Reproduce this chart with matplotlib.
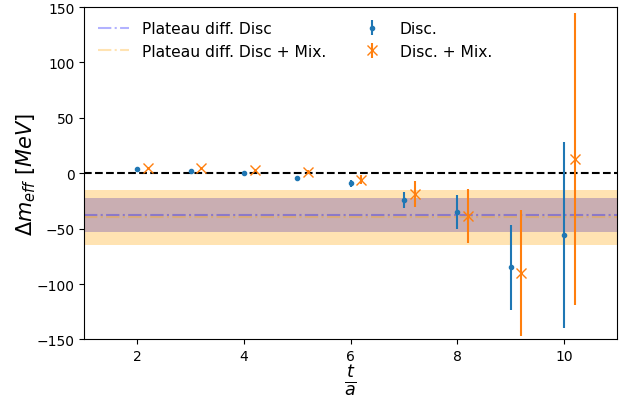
import matplotlib
matplotlib.use('Agg')
import matplotlib.pyplot as plt
import numpy as np

# effective mass differences, Disc. only
t_disc = np.array([2, 3, 4, 5, 6, 7, 8, 9, 10])
dm_disc = np.array([3.6, 2.0, 0.0, -4.0, -9.0, -24.0, -35.0, -85.0, -56.0])
err_disc = np.array([1.0, 1.0, 1.0, 1.5, 3.0, 7.5, 15.5, 38.0, 84.0])

# Disc. + Mix. (shifted by 0.2 in t)
t_mix = t_disc + 0.2
dm_mix = np.array([5.0, 5.0, 3.0, 1.0, -6.0, -18.5, -38.5, -90.0, 13.0])
err_mix = np.array([1.0, 1.0, 1.0, 1.5, 4.0, 11.5, 24.0, 57.0, 132.0])

# plateau fits
plat_disc, plat_disc_err = -37.8, 15.3
plat_mix, plat_mix_err = -39.8, 24.9

fig, ax = plt.subplots(figsize=(6.33, 4.02), dpi=100)

xs = np.array([1, 11])
ax.plot(xs, [plat_disc] * 2, '-.', color='blue', alpha=0.3, label='Plateau diff. Disc')
ax.fill_between(xs, plat_disc - plat_disc_err, plat_disc + plat_disc_err, color='blue', alpha=0.3, lw=0)
ax.plot(xs, [plat_mix] * 2, '-.', color='orange', alpha=0.3, label='Plateau diff. Disc + Mix.')
ax.fill_between(xs, plat_mix - plat_mix_err, plat_mix + plat_mix_err, color='orange', alpha=0.3, lw=0)

ax.axhline(0, color='black', ls='--', lw=1.5)

ax.errorbar(t_disc, dm_disc, yerr=err_disc, fmt='o', ms=3, color='tab:blue', label='Disc.')
ax.errorbar(t_mix, dm_mix, yerr=err_mix, fmt='x', ms=6.5, color='tab:orange', label='Disc. + Mix.')

ax.set_xlim(1, 11)
ax.set_ylim(-150, 150)
ax.set_xlabel(r'$\frac{t}{a}$', fontsize=18, labelpad=0)
ax.set_ylabel(r'$\Delta m_{eff}$ $[MeV]$', fontsize=15, labelpad=-1)
ax.legend(loc='upper left', ncol=2, frameon=False, fontsize=11.2, columnspacing=1.95)

fig.subplots_adjust(left=0.133, right=0.975, top=0.98, bottom=0.153)
fig.savefig('out.png')
